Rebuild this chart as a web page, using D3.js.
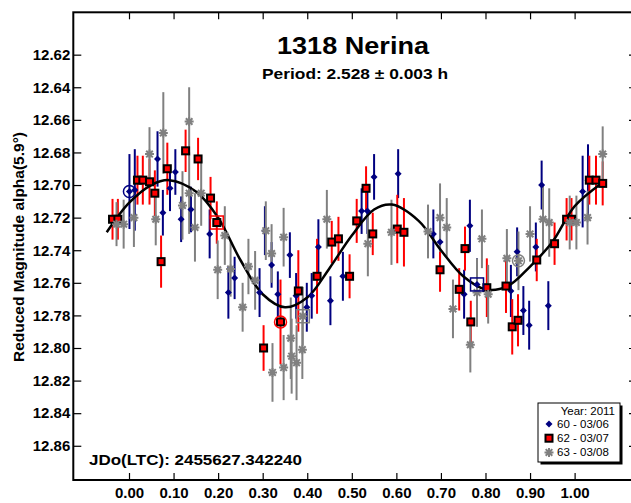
<!DOCTYPE html>
<html lang="en">
<head>
<meta charset="UTF-8">
<title>1318 Nerina</title>
<script src="https://d3js.org/d3.v7.min.js"></script>
<style>
  body { margin: 0; background: #fff; }
  text { font-family: "Liberation Sans", Arial, sans-serif; }
</style>
</head>
<body>
<div id="chart"></div>
<script>
// axis ticks
var yTicks = [12.62, 12.64, 12.66, 12.68, 12.70, 12.72, 12.74, 12.76, 12.78, 12.80, 12.82, 12.84, 12.86];
var xTicks = [0.0, 0.1, 0.2, 0.3, 0.4, 0.5, 0.6, 0.7, 0.8, 0.9, 1.0];

// session 60 - 03/06 : [phase, magnitude, error]
var s60 = [
  [0.001,12.704,0.023],[0.013,12.703,0.025],[0.064,12.684,0.017],[0.076,12.717,0.014],
  [0.092,12.702,0.014],[0.104,12.692,0.014],[0.117,12.721,0.014],[0.139,12.715,0.014],
  [0.181,12.730,0.015],[0.223,12.766,0.016],[0.237,12.757,0.013],[0.293,12.766,0.015],
  [0.305,12.728,0.015],[0.320,12.749,0.014],[0.334,12.767,0.014],[0.361,12.743,0.014],
  [0.375,12.768,0.014],[0.399,12.775,0.015],[0.410,12.768,0.014],[0.425,12.738,0.017],
  [0.452,12.771,0.015],[0.480,12.756,0.015],[0.522,12.716,0.014],[0.535,12.716,0.014],
  [0.550,12.695,0.014],[0.604,12.693,0.015],[0.683,12.730,0.015],[0.698,12.735,0.015],
  [0.752,12.767,0.015],[0.765,12.725,0.016],[0.781,12.761,0.016],[0.857,12.765,0.016],
  [0.871,12.741,0.015],[0.885,12.777,0.015],[0.898,12.786,0.015],[0.913,12.738,0.015],
  [0.926,12.700,0.015],[0.941,12.774,0.015],[1.018,12.704,0.022],[1.030,12.697,0.022]
];

// session 62 - 03/07
var s62 = [
  [-0.037,12.721,0.0125],[-0.025,12.721,0.0125],[0.019,12.697,0.015],[0.031,12.697,0.015],
  [0.046,12.698,0.014],[0.058,12.705,0.014],[0.072,12.747,0.016],[0.086,12.690,0.016],
  [0.127,12.679,0.013],[0.155,12.684,0.013],[0.183,12.708,0.013],[0.197,12.723,0.013],
  [0.302,12.800,0.014],[0.340,12.784,0.026],[0.380,12.765,0.025],[0.422,12.756,0.023],
  [0.455,12.735,0.013],[0.470,12.733,0.0135],[0.495,12.756,0.0135],[0.511,12.722,0.0135],
  [0.532,12.702,0.0135],[0.547,12.730,0.013],[0.602,12.727,0.021],[0.617,12.729,0.021],
  [0.698,12.752,0.0135],[0.741,12.764,0.013],[0.754,12.739,0.0135],[0.767,12.784,0.013],
  [0.803,12.763,0.018],[0.846,12.762,0.0165],[0.860,12.787,0.017],[0.873,12.783,0.016],
  [0.915,12.746,0.013],[0.955,12.736,0.013],[0.982,12.721,0.013],[0.993,12.721,0.013],
  [1.033,12.697,0.015],[1.048,12.697,0.015],[1.063,12.699,0.0135]
];

// session 63 - 03/08
var s63 = [
  [-0.028,12.724,0.0135],[-0.012,12.724,0.015],[0.011,12.720,0.018],[0.046,12.681,0.0165],
  [0.060,12.721,0.016],[0.077,12.668,0.025],[0.120,12.7125,0.021],[0.135,12.661,0.021],
  [0.135,12.705,0.025],[0.148,12.726,0.021],[0.162,12.705,0.02],[0.199,12.752,0.018],
  [0.215,12.731,0.018],[0.228,12.7515,0.017],[0.255,12.775,0.015],[0.268,12.750,0.017],
  [0.283,12.7585,0.018],[0.307,12.728,0.018],[0.320,12.742,0.018],[0.347,12.732,0.018],
  [0.322,12.815,0.018],[0.347,12.812,0.02],[0.363,12.794,0.025],[0.365,12.805,0.023],
  [0.376,12.809,0.023],[0.389,12.801,0.018],[0.390,12.7805,0.018],[0.444,12.721,0.018],
  [0.536,12.736,0.02],[0.589,12.729,0.02],[0.671,12.7285,0.0165],[0.698,12.720,0.021],
  [0.713,12.726,0.018],[0.727,12.776,0.018],[0.766,12.798,0.017],[0.781,12.766,0.021],
  [0.792,12.733,0.018],[0.806,12.767,0.018],[0.848,12.745,0.018],[0.874,12.7465,0.018],
  [0.900,12.730,0.017],[0.929,12.721,0.021],[0.943,12.723,0.021],[0.989,12.723,0.0165],
  [1.004,12.723,0.0165],[1.029,12.720,0.0165],[1.063,12.681,0.017]
];

// fourier fit
var fitPhase = [-0.05, 0.00, 0.05, 0.09, 0.15, 0.20, 0.25, 0.30, 0.35, 0.40, 0.45, 0.50,
                0.55, 0.59, 0.65, 0.70, 0.75, 0.80, 0.85, 0.90, 0.95, 1.00, 1.06];
var fitMag = [12.729, 12.711, 12.700, 12.697, 12.704, 12.720, 12.746, 12.767, 12.775, 12.769, 12.751, 12.731,
              12.715, 12.712, 12.722, 12.740, 12.756, 12.764, 12.762, 12.750, 12.735, 12.713, 12.699];

// highlighted points: [series, index, shape]
var flagged = [["s60", 0, "circle"], ["s60", 30, "square"], ["s62", 11, "square"],
               ["s62", 13, "circle"], ["s63", 26, "square"], ["s63", 39, "circle"]];

var legendLabels = ["60 - 03/06", "62 - 03/07", "63 - 03/08"];

var W = 631, H = 503;
var plot = {left: 73.3, right: 637, top: 12.3, bottom: 480};

var svg = d3.select("#chart").append("svg")
    .attr("width", W)
    .attr("height", H);

var x = d3.scaleLinear().domain([-0.125, 1.14]).range([plot.left, plot.right]);
var y = d3.scaleLinear().domain([12.594, 12.881]).range([plot.top, plot.bottom]);

var series = {
    s60: {data: s60, color: "#000080"},
    s62: {data: s62, color: "#ff0000"},
    s63: {data: s63, color: "#808080"}
};
var order = ["s60", "s62", "s63"];

// axes, ticks pointing inward
function styleAxis(g) {
    g.select(".domain").remove();
    g.selectAll("line").attr("stroke", "#000").attr("stroke-width", 1.2);
    g.selectAll("text")
        .attr("font-family", "'Liberation Sans', Arial, sans-serif")
        .attr("font-weight", "bold")
        .attr("font-size", 15)
        .attr("fill", "#000");
}

svg.append("g")
    .attr("transform", "translate(" + plot.left + ",0)")
    .call(d3.axisLeft(y).tickValues(yTicks).tickSizeInner(-8).tickSizeOuter(0)
        .tickPadding(3).tickFormat(d3.format(".2f")))
    .call(styleAxis);

svg.append("g")
    .attr("transform", "translate(" + plot.right + ",0)")
    .call(d3.axisRight(y).tickValues(yTicks).tickSizeInner(-8).tickSizeOuter(0).tickFormat(""))
    .call(styleAxis);

svg.append("g")
    .attr("transform", "translate(0," + plot.bottom + ")")
    .call(d3.axisBottom(x).tickValues(xTicks).tickSizeInner(-7).tickSizeOuter(0)
        .tickPadding(7).tickFormat(d3.format(".2f")))
    .call(styleAxis);

svg.append("g")
    .attr("transform", "translate(0," + plot.top + ")")
    .call(d3.axisTop(x).tickValues(xTicks).tickSizeInner(-7).tickSizeOuter(0).tickFormat(""))
    .call(styleAxis);

svg.append("rect")
    .attr("x", plot.left).attr("y", plot.top)
    .attr("width", plot.right - plot.left).attr("height", plot.bottom - plot.top)
    .attr("fill", "none").attr("stroke", "#000").attr("stroke-width", 2);

// error bars
order.forEach(function(k) {
    var s = series[k];
    svg.append("g").selectAll("line")
        .data(s.data).enter().append("line")
        .attr("x1", function(d) { return x(d[0]); })
        .attr("x2", function(d) { return x(d[0]); })
        .attr("y1", function(d) { return y(d[1] - d[2]); })
        .attr("y2", function(d) { return y(d[1] + d[2]); })
        .attr("stroke", s.color)
        .attr("stroke-width", 2);
});

// fit curve
var fit = fitPhase.map(function(p, i) { return [p, fitMag[i]]; });
svg.append("path")
    .datum(fit)
    .attr("d", d3.line()
        .x(function(d) { return x(d[0]); })
        .y(function(d) { return y(d[1]); })
        .curve(d3.curveCatmullRom))
    .attr("fill", "none")
    .attr("stroke", "#000")
    .attr("stroke-width", 2.5);

// markers
function diamond(g, color) {
    g.append("path").attr("d", "M0,-3.5L3.5,0L0,3.5L-3.5,0Z").attr("fill", color);
}
function redSquare(g) {
    g.append("rect").attr("x", -4.5).attr("y", -4.5).attr("width", 9).attr("height", 9).attr("fill", "#000");
    g.append("rect").attr("x", -2.5).attr("y", -2.5).attr("width", 5).attr("height", 5).attr("fill", "#ff0000");
}
function asterisk(g, color) {
    g.append("path")
        .attr("d", "M-4.5,0H4.5M0,-4.5V4.5M-3.3,-3.3L3.3,3.3M-3.3,3.3L3.3,-3.3")
        .attr("stroke", color).attr("stroke-width", 2).attr("fill", "none");
}
var markerFns = {
    s60: function(g) { diamond(g, "#000080"); },
    s62: function(g) { redSquare(g); },
    s63: function(g) { asterisk(g, "#808080"); }
};

order.forEach(function(k) {
    svg.append("g").selectAll("g")
        .data(series[k].data).enter().append("g")
        .attr("transform", function(d) { return "translate(" + x(d[0]) + "," + y(d[1]) + ")"; })
        .each(function() { markerFns[k](d3.select(this)); });
});

// first / last point highlight
flagged.forEach(function(f) {
    var s = series[f[0]], d = s.data[f[1]];
    var g = svg.append("g").attr("transform", "translate(" + x(d[0]) + "," + y(d[1]) + ")");
    if (f[2] === "circle") {
        g.append("circle").attr("r", 6).attr("fill", "none")
            .attr("stroke", s.color).attr("stroke-width", 1.5);
    } else {
        g.append("rect").attr("x", -6.5).attr("y", -6.5).attr("width", 13).attr("height", 13)
            .attr("fill", "none").attr("stroke", s.color).attr("stroke-width", 1.5);
    }
});

// titles
svg.append("text")
    .attr("x", 353).attr("y", 54)
    .attr("text-anchor", "middle")
    .attr("font-weight", "bold").attr("font-size", 23)
    .attr("textLength", 152).attr("lengthAdjust", "spacingAndGlyphs")
    .text("1318 Nerina");

svg.append("text")
    .attr("x", 355).attr("y", 79)
    .attr("text-anchor", "middle")
    .attr("font-weight", "bold").attr("font-size", 15)
    .attr("textLength", 186).attr("lengthAdjust", "spacingAndGlyphs")
    .text("Period: 2.528 \u00b1 0.003 h");

svg.append("text")
    .attr("x", 89).attr("y", 465)
    .attr("font-weight", "bold").attr("font-size", 15.5)
    .attr("textLength", 213).attr("lengthAdjust", "spacingAndGlyphs")
    .text("JDo(LTC): 2455627.342240");

svg.append("text")
    .attr("transform", "translate(23.5,247) rotate(-90)")
    .attr("text-anchor", "middle")
    .attr("font-weight", "bold").attr("font-size", 14)
    .attr("textLength", 230).attr("lengthAdjust", "spacingAndGlyphs")
    .text("Reduced Magnitude alpha(5.9\u00b0)");

// legend
var lg = svg.append("g").attr("transform", "translate(538,403)");
lg.append("rect").attr("x", 2.5).attr("y", 2.5).attr("width", 82).attr("height", 59).attr("fill", "#000");
lg.append("rect").attr("x", 0).attr("y", 0).attr("width", 82).attr("height", 59)
    .attr("fill", "#fff").attr("stroke", "#000").attr("stroke-width", 1);
lg.append("text").attr("x", 77).attr("y", 12).attr("text-anchor", "end")
    .attr("font-size", 11.5).text("Year: 2011");
order.forEach(function(k, i) {
    var row = lg.append("g").attr("transform", "translate(11," + (21 + i * 14.2) + ")");
    markerFns[k](row);
    lg.append("text").attr("x", 19).attr("y", 21 + i * 14.2 + 4)
        .attr("font-size", 11.5).text(legendLabels[i]);
});
</script>
</body>
</html>
